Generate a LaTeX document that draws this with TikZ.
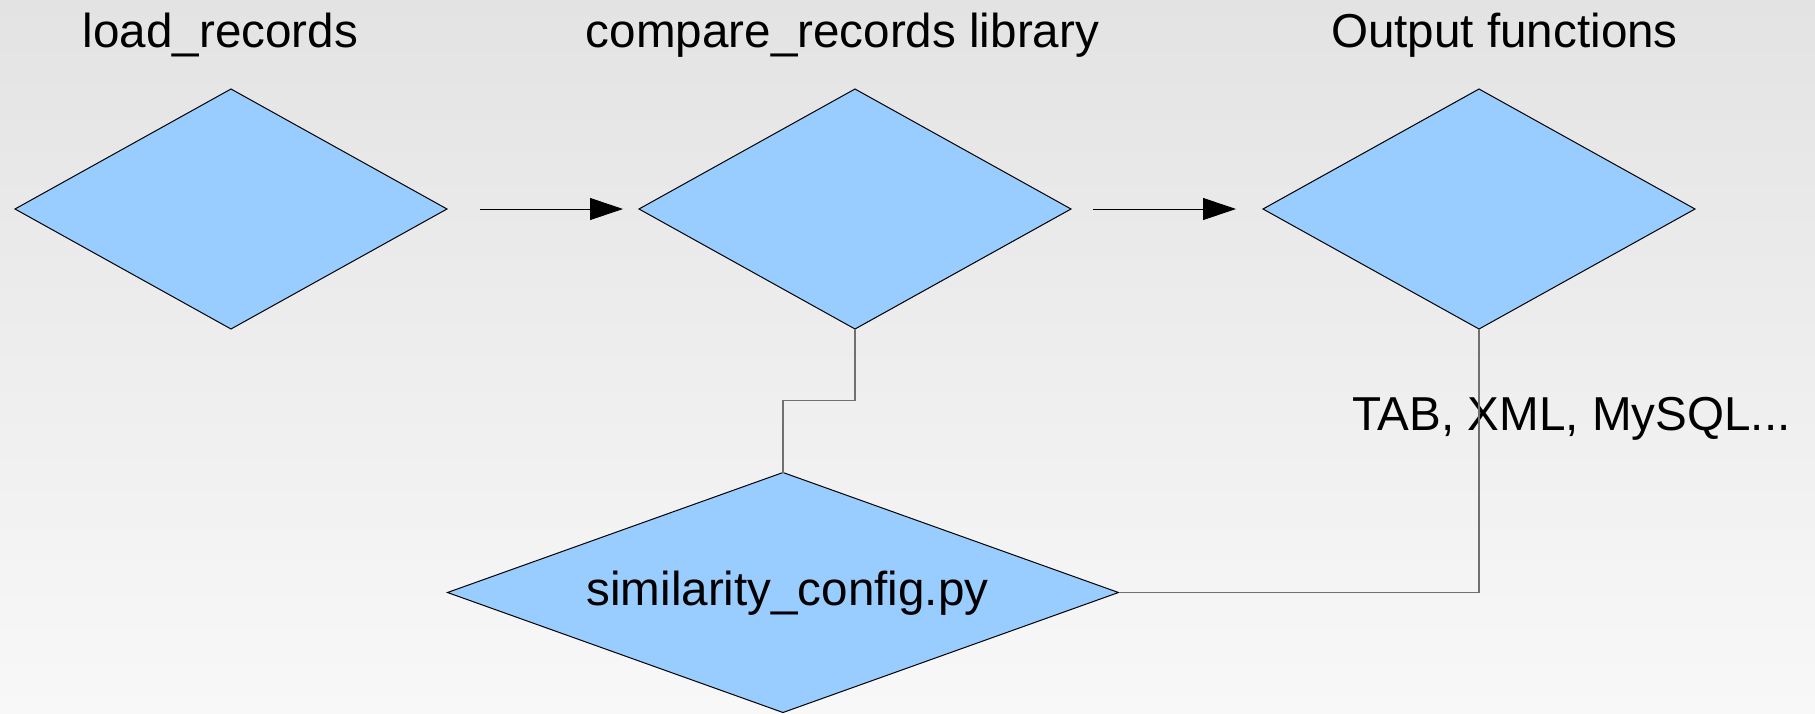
\documentclass[tikz,border=0pt]{standalone}
\usepackage{fontspec}
\setmainfont{Liberation Sans}
\usetikzlibrary{shapes.geometric,arrows.meta}
\definecolor{dfill}{HTML}{99CCFF}
\definecolor{bgtop}{HTML}{E3E3E3}
\definecolor{bgbot}{HTML}{F8F8F8}
\definecolor{conn}{HTML}{707070}
\tikzset{
  dia/.style={diamond,draw=black,line width=0.5pt,fill=dfill,inner sep=0pt,outer sep=0pt,minimum width=216pt,minimum height=120pt},
  bigdia/.style={dia,minimum width=335.5pt},
  lbl/.style={font=\fontsize{23.8}{28}\selectfont,inner sep=0pt,anchor=base},
  flow/.style={line width=0.5pt,-{Triangle[length=16.5pt,width=11pt]}},
  link/.style={draw=conn,line width=0.75pt}
}
\begin{document}
\begin{tikzpicture}[x=0.5pt,y=-0.5pt]
\shade[top color=bgtop,bottom color=bgbot] (0,0) rectangle (1815,713);
\useasboundingbox (0,0) rectangle (1815,713);
\node[dia] (load) at (231,209) {};
\node[dia] (cmp) at (855,209) {};
\node[dia] (out) at (1479,209) {};
\node[bigdia] (sim) at (783,592.5) {};
\node[lbl] (tload) at (220.5,47) {load\_records};
\node[lbl] (tcmp) at (842.5,47) {compare\_records library};
\node[lbl] (tout) at (1504.5,47) {Output functions};
\node[lbl,anchor=base west] (tfmt) at (1352,430) {TAB, XML, MySQL...};
\node[lbl] (tsim) at (787.5,605) {similarity\_config.py};
\coordinate (a1s) at (480,209);
\coordinate (a1e) at (623,209);
\coordinate (a2s) at (1093,209);
\coordinate (a2e) at (1236,209);
\draw[flow] (a1s) -- (a1e);
\draw[flow] (a2s) -- (a2e);
\draw[link] (cmp.south) |- (783,400.5) -- (sim.north);
\draw[link] (sim.east) -| (out.south);
\end{tikzpicture}
\end{document}
